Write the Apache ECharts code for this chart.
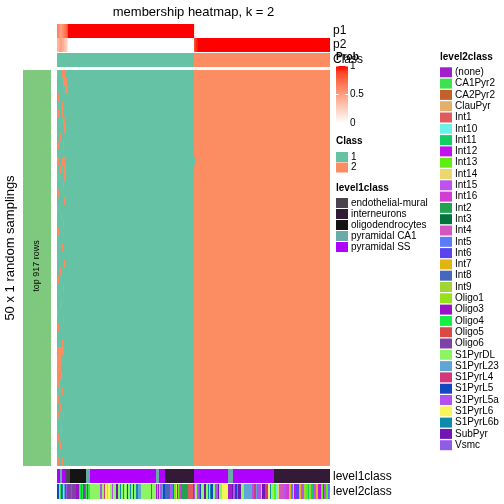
<!DOCTYPE html>
<html><head><meta charset="utf-8">
<script src="https://cdn.jsdelivr.net/npm/echarts@6/dist/echarts.min.js"></script>
<style>html,body{margin:0;padding:0;background:#fff}#c{width:504px;height:504px}</style>
</head><body><div id="c"></div>
<script>
// ---------------- DATA ----------------
const N_COLS = 273;
const N_ROWS = 50;
// consensus class per column (run-length: [class, count])
const classRuns = [[1,137],[2,136]];
// membership probabilities (run-length: [value, count])
const p1Runs = [[0.62,1],[0.6,1],[0.55,1],[0.5,1],[0.52,1],[0.58,1],[0.6,1],[0.66,1],[0.7,1],[0.74,1],[0.85,1],[1,126],[0.15,1],[0.08,1],[0.04,1],[0.02,1],[0,132]];
const p2Runs = [[0.38,1],[0.4,1],[0.45,1],[0.5,1],[0.48,1],[0.42,1],[0.4,1],[0.34,1],[0.3,1],[0.26,1],[0.15,1],[0,126],[0.85,1],[0.92,1],[0.96,1],[0.98,1],[1,132]];
const level1Names = ["endothelial-mural","interneurons","oligodendrocytes","pyramidal CA1","pyramidal SS"];
const level1Runs = [["pyramidal SS",3],["pyramidal CA1",2],["pyramidal SS",4],["endothelial-mural",4],["oligodendrocytes",16],["pyramidal CA1",4],["pyramidal SS",66],["pyramidal CA1",3],["pyramidal SS",6],["interneurons",29],["pyramidal SS",34],["pyramidal CA1",5],["pyramidal SS",41],["interneurons",56]];
const level2Names = ["(none)","CA1Pyr2","CA2Pyr2","ClauPyr","Int1","Int10","Int11","Int12","Int13","Int14","Int15","Int16","Int2","Int3","Int4","Int5","Int6","Int7","Int8","Int9","Oligo1","Oligo3","Oligo4","Oligo5","Oligo6","S1PyrDL","S1PyrL23","S1PyrL4","S1PyrL5","S1PyrL5a","S1PyrL6","S1PyrL6b","SubPyr","Vsmc"];
const level2Runs = [
 ["SubPyr",1],["S1PyrL5",1],["S1PyrDL",1],["CA1Pyr2",1],["(none)",1],["S1PyrL6b",1],["S1PyrDL",1],["S1PyrL23",1],["(none)",1],
 ["Vsmc",1],["Oligo6",4],["Oligo5",1],["Oligo6",4],["Oligo3",3],["Oligo4",2],["Oligo5",1],["Oligo4",1],["Oligo6",2],["Oligo5",1],["CA1Pyr2",1],["(none)",1],["CA1Pyr2",2],
 ["S1PyrDL",10],["S1PyrL5a",2],["S1PyrDL",2],["S1PyrL4",1],["S1PyrL6",2],["S1PyrDL",1],["S1PyrL6",2],["S1PyrDL",2],["S1PyrL5a",1],["S1PyrDL",3],["SubPyr",2],["S1PyrDL",2],["S1PyrL6b",1],["S1PyrDL",2],["S1PyrL6b",1],["S1PyrDL",1],["S1PyrL6",1],["S1PyrDL",1],["S1PyrL5",1],["S1PyrDL",2],["S1PyrL6b",1],["S1PyrDL",2],["S1PyrL5",1],["S1PyrDL",2],["S1PyrL6b",2],["S1PyrL23",3],["S1PyrDL",10],["S1PyrL6b",1],["S1PyrDL",4],
 ["(none)",1],["CA1Pyr2",1],["(none)",1],
 ["ClauPyr",1],["S1PyrL5a",2],["S1PyrL23",1],["S1PyrL5",2],
 ["Int8",5],["Int15",1],["Int5",2],["Int6",1],["Int13",2],["Int14",1],["Int6",1],["Int13",1],["Int4",1],["Int16",1],["Int2",7],["Int1",5],["Int12",1],
 ["S1PyrL5a",1],["S1PyrDL",2],["S1PyrL5a",2],["S1PyrL4",1],["S1PyrL5",1],["S1PyrDL",3],["SubPyr",2],["S1PyrDL",2],["S1PyrL6b",1],["S1PyrDL",1],["S1PyrL6b",1],["S1PyrL5",2],["S1PyrDL",2],["S1PyrL5a",3],["SubPyr",1],["S1PyrDL",3],["S1PyrL6",6],
 ["(none)",4],["SubPyr",1],
 ["S1PyrL5a",2],["S1PyrL5",2],["S1PyrL5a",1],["SubPyr",3],["S1PyrDL",3],["S1PyrL23",8],["S1PyrL5a",2],["S1PyrL4",2],["S1PyrL23",1],["S1PyrL5a",4],["S1PyrDL",1],["SubPyr",3],["S1PyrL4",3],["S1PyrL6",2],["S1PyrL6b",1],["S1PyrDL",3],
 ["Int13",2],["Int10",2],["Int14",1],["Int4",4],["Int15",3],["Int16",3],["Int7",2],["Int5",2],["Int10",1],["Int12",2],["Int6",3],["Int7",2],["Int15",3],["Int9",2],["Int13",2],["Int11",1],["Int9",2],["Int11",2],["Int5",1],["Int15",2],["Int7",2],["Int12",3],["Int13",2],["Int6",1],["Int15",2],["Int13",2],["Int5",1],["Int11",1]
];
// class calls of the 50 random samplings: first 12 columns read per row (rest agree with the consensus class)
const mainRowPrefix = [
 "211112221111","111111222211","111111112221","121111111111","111112111111",
 "221112111111","111111221111","111111122111","111211111111","121111211111",
 "111111111111","221112221111","211221222111","212111122111","111111211111",
 "121111111111","111111121111","211111111111","111121111111","111111211111",
 "121111111111","111111111111","111112111111","211111111111","111111121111",
 "111211111111","121111111111","111111211111","111111111111","111121111111",
 "211111111111","111111211111","121111111111","111111111111","111112111111",
 "222222211111","222221111111","222211111111","221221111111","222111111111",
 "212112111111","221111111111","111211111111","121111211111","111111111111",
 "211121111111","121111111111","111211111111","211111111111","121112111111"
];
// other disagreeing cells: [row, column, class]
const mainExceptions = [[11,137,1]];
const rowAnnotLabel = "top 917 rows";

// ---------------- STYLES ----------------
const classColors = {1:"#66C2A5", 2:"#FC8D62"};
const level1Colors = {"endothelial-mural":"#4B444F","interneurons":"#331A36","oligodendrocytes":"#141414","pyramidal CA1":"#6AABA8","pyramidal SS":"#B000FF"};
const level2Colors = ["#A11FCB","#3CE34F","#C4612A","#E2B06C","#E05A5E","#6CF0EA","#12CF63","#C112EC","#5EEF0E","#EAD86E","#BE52EE","#D03DD3","#22A352","#00743A","#D456C0","#5A7BFA","#5B43F0","#E2B412","#4567BE","#A2D433","#96E21A","#9A13C4","#14F044","#DA4A44","#8042A6","#8CF662","#5FA6D6","#D3397A","#1448C0","#B350EE","#F6F65C","#1189AA","#7514B4","#8F5CE4"];
const FONT = "'Liberation Sans', Arial, sans-serif";

// white -> red ramp in LAB
function labToHex(L,a,b){
  const fy=(L+16)/116, fx=fy+a/500, fz=fy-b/200;
  const fi=t=>{const t3=t*t*t;return t3>0.008856?t3:(t-16/116)/7.787;};
  const X=0.95047*fi(fx), Y=fi(fy), Z=1.08883*fi(fz);
  let r=3.2406*X-1.5372*Y-0.4986*Z, g=-0.9689*X+1.8758*Y+0.0415*Z, bb=0.0557*X-0.2040*Y+1.0570*Z;
  const gm=c=>{c=Math.max(0,Math.min(1,c));c=c<=0.0031308?12.92*c:1.055*Math.pow(c,1/2.4)-0.055;return Math.round(c*255);};
  return "#"+[gm(r),gm(g),gm(bb)].map(v=>v.toString(16).padStart(2,"0")).join("");
}
function probColor(v){ return labToHex(100+(53.24-100)*v, 80.09*v, 67.20*v); }

// ---------------- BUILD ----------------
function expand(runs){ const out=[]; runs.forEach(([v,n])=>{for(let i=0;i<n;i++) out.push(v);}); return out; }
function toItems(arr,row){ // merge equal neighbours -> [x0,x1,row,value]
  const items=[]; let s=0;
  for(let i=1;i<=arr.length;i++){ if(i===arr.length||arr[i]!==arr[s]){ items.push([s,i,row,arr[s]]); s=i; } }
  return items;
}
const colClass = expand(classRuns);
const p1 = expand(p1Runs), p2 = expand(p2Runs);
const lev1 = expand(level1Runs).map(n=>level1Names.indexOf(n));
const lev2 = expand(level2Runs).map(n=>level2Names.indexOf(n));
const mainItems=[];
mainRowPrefix.forEach((pre,r)=>{
  const row = colClass.slice();
  for(let c=0;c<pre.length;c++) row[c]=+pre[c];
  mainExceptions.forEach(([er,ec,ev])=>{ if(er===r) row[ec]=ev; });
  mainItems.push(...toItems(row,r));
});

const L=57, W=273;
const grids=[
  {left:L,width:W,top:24,height:14},   // p1
  {left:L,width:W,top:38,height:14},   // p2
  {left:L,width:W,top:53,height:14},   // Class
  {left:L,width:W,top:70,height:396},  // main
  {left:L,width:W,top:469,height:14},  // level1class
  {left:L,width:W,top:484,height:15},  // level2class
  {left:23,width:28,top:70,height:396} // row annotation
];
const rowsPerGrid=[1,1,1,N_ROWS,1,1,1];
const xAxes=grids.map((g,i)=>({gridIndex:i,type:"value",min:0,max:i===6?1:N_COLS,show:false}));
const yAxes=grids.map((g,i)=>({gridIndex:i,type:"value",min:0,max:rowsPerGrid[i],inverse:true,show:false}));

function cellSeries(gi,data,colorFn){
  return {type:"custom",xAxisIndex:gi,yAxisIndex:gi,data:data,animation:false,silent:true,z:1,
    renderItem:function(params,api){
      const a=api.coord([api.value(0),api.value(2)]);
      const b=api.coord([api.value(1),api.value(2)+1]);
      const x=Math.round(a[0]), y=Math.round(a[1]);
      return {type:"rect",shape:{x:x,y:y,width:Math.round(b[0])-x,height:Math.round(b[1])-y},style:{fill:colorFn(api.value(3))}};
    }};
}
const series=[
  cellSeries(0,toItems(p1,0),probColor),
  cellSeries(1,toItems(p2,0),probColor),
  cellSeries(2,toItems(colClass,0),v=>classColors[v]),
  cellSeries(3,mainItems,v=>classColors[v]),
  cellSeries(4,toItems(lev1,0),v=>level1Colors[level1Names[v]]),
  cellSeries(5,toItems(lev2,0),v=>level2Colors[v]),
  cellSeries(6,[[0,1,0,0]],v=>"#7FC97F")
];

// ---------------- LEGENDS / TEXT ----------------
const g=[];
function txt(x,y,t,size,opts){ g.push(Object.assign({type:"text",x:x,y:y,z:100,silent:true,style:Object.assign({text:t,font:(opts&&opts.bold?"bold ":"")+size+"px "+FONT,fill:"#000",align:"left",verticalAlign:"middle",textAlign:"left",textVerticalAlign:"middle"},opts&&opts.style||{})},opts&&opts.el||{})); }
function rect(x,y,w,h,fill){ g.push({type:"rect",z:100,silent:true,shape:{x:x,y:y,width:w,height:h},style:{fill:fill}}); }

txt(193.5,12,"membership heatmap, k = 2",13,{style:{align:"center",textAlign:"center"}});
txt(333,31,"p1",12); txt(333,45,"p2",12); txt(333,60,"Class",12);
txt(10,248,"50 x 1 random samplings",13,{el:{rotation:Math.PI/2},style:{align:"center",textAlign:"center"}});
txt(37,266,rowAnnotLabel,9,{el:{rotation:Math.PI/2},style:{align:"center",textAlign:"center"}});
txt(333,477,"level1class",12); txt(333,492,"level2class",12);

// Prob colour bar
txt(336,57,"Prob",10,{bold:true});
const barTop=66, barH=57, stops=[];
for(let i=0;i<=10;i++){ stops.push({offset:i/10,color:probColor(1-i/10)}); }
g.push({type:"rect",z:100,silent:true,shape:{x:336,y:barTop,width:12,height:barH},style:{fill:new echarts.graphic.LinearGradient(0,0,0,1,stops)}});
[[1,"1"],[0.5,"0.5"],[0,"0"]].forEach(([v,t])=>{
  const yy=barTop+(1-v)*barH;
  if(v>0){ g.push({type:"line",z:101,silent:true,shape:{x1:336,y1:yy,x2:338.5,y2:yy},style:{stroke:"#fff",lineWidth:1}});
           g.push({type:"line",z:101,silent:true,shape:{x1:345.5,y1:yy,x2:348,y2:yy},style:{stroke:"#fff",lineWidth:1}}); }
  txt(350,yy,t,10);
});
// Class legend
txt(336,141,"Class",10,{bold:true});
[1,2].forEach((c,i)=>{ rect(336,152+i*10.5,12,10,classColors[c]); txt(351,157+i*10.5,String(c),10); });
// level1class legend
txt(336,188,"level1class",10,{bold:true});
level1Names.forEach((n,i)=>{ rect(336,198+i*11,12,10,level1Colors[n]); txt(351,203+i*11,n,10); });
// level2class legend
txt(440,57,"level2class",10,{bold:true});
level2Names.forEach((n,i)=>{ const yy=72.3+i*11.3; rect(440,yy-5,12,10,level2Colors[i]); txt(455,yy,n,10); });

const chart=echarts.init(document.getElementById("c"),null,{renderer:"canvas"});
chart.setOption({animation:false,backgroundColor:"#fff",grid:grids,xAxis:xAxes,yAxis:yAxes,series:series,graphic:{elements:g}});
</script></body></html>
